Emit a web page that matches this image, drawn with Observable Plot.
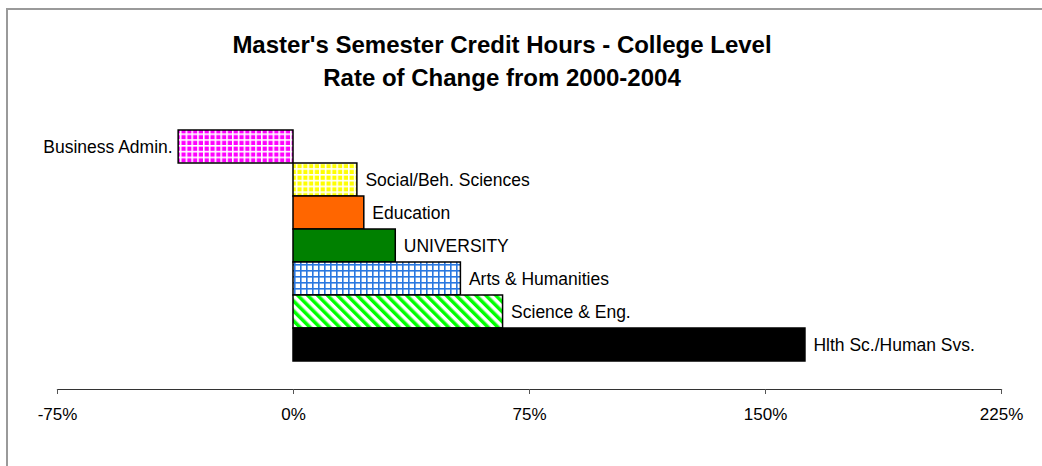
<!DOCTYPE html>
<html>
<head>
<meta charset="utf-8">
<script src="https://cdn.jsdelivr.net/npm/d3@7"></script>
<script src="https://cdn.jsdelivr.net/npm/@observablehq/plot@0.6"></script>
<style>
  html, body { margin: 0; padding: 0; background: #fff; overflow: hidden; }
  #wrap { position: relative; width: 1042px; height: 466px; }
  #border { position: absolute; left: 6px; top: 8px; width: 1100px; height: 500px;
            border-left: 2px solid #9a9a9a; border-top: 2px solid #9a9a9a; pointer-events: none; z-index: 3; }
  #title { position: absolute; top: 28px; left: 0; width: 1004px; text-align: center;
           font-family: "Liberation Sans", Arial, sans-serif; font-weight: bold; font-size: 24px;
           line-height: 33px; color: #000; z-index: 2; }
  #chart { position: absolute; left: 0; top: 0; }
</style>
</head>
<body>
<div id="wrap">
  <div id="border"></div>
  <div id="title">Master's Semester Credit Hours - College Level<br>Rate of Change from 2000-2004</div>
  <div id="chart"></div>
</div>
<script>
const categories = ["Business Admin.", "Social/Beh. Sciences", "Education", "UNIVERSITY",
                    "Arts & Humanities", "Science & Eng.", "Hlth Sc./Human Svs."];
const values = [-36.5, 20.3, 22.5, 32.5, 53.2, 66.6, 162.7];
const tickValues = [-75, 0, 75, 150, 225];
const tickLabels = ["-75%", "0%", "75%", "150%", "225%"];
const fills = ["url(#pMagenta)", "url(#pYellow)", "#FF6600", "#008000", "url(#pBlue)", "url(#pGreen)", "#000000"];

const data = categories.map((c, i) => ({category: c, value: values[i]}));
const fmt = d => tickLabels[tickValues.indexOf(d)];

const chart = Plot.plot({
  width: 1042,
  height: 466,
  marginLeft: 57,
  marginRight: 41,
  marginTop: 127,
  marginBottom: 77,
  style: {fontFamily: "'Liberation Sans', Arial, sans-serif", fontSize: "17px", color: "#000", background: "transparent"},
  x: {domain: [-75, 225]},
  y: {domain: categories, range: [127, 364], padding: 0, axis: null},
  color: {type: "ordinal", domain: categories, range: fills},
  marks: [
    Plot.barX(data, {x: "value", y: "category", fill: "category", stroke: "#000", strokeWidth: 1.5}),
    Plot.text(data.filter(d => d.value >= 0), {x: "value", y: "category", text: "category",
      textAnchor: "start", dx: 8, fontSize: 17.5, fill: "#000"}),
    Plot.text(data.filter(d => d.value < 0), {x: "value", y: "category", text: "category",
      textAnchor: "end", dx: -6, fontSize: 17.5, fill: "#000"}),
    Plot.frame({anchor: "bottom", stroke: "#333", strokeWidth: 1.2}),
    Plot.axisX({ticks: tickValues, tickFormat: fmt, tickSize: 5, tickPadding: 13,
      stroke: "#555", fontSize: 17, fill: "#000", label: null})
  ]
});

// patterns
const svg = d3.select(chart);
const defs = svg.insert("defs", ":first-child");
function grid(id, bg, line, size, lw) {
  const p = defs.append("pattern").attr("id", id).attr("patternUnits", "userSpaceOnUse")
    .attr("width", size).attr("height", size);
  p.append("rect").attr("width", size).attr("height", size).attr("fill", bg);
  p.append("rect").attr("x", 0).attr("y", 0).attr("width", lw).attr("height", size).attr("fill", line);
  p.append("rect").attr("x", 0).attr("y", 0).attr("width", size).attr("height", lw).attr("fill", line);
}
grid("pMagenta", "#FF00FF", "#FFFFFF", 5.8, 1.6);
grid("pYellow", "#FFFF00", "#FFFFFF", 5.8, 1.6);
grid("pBlue", "#FFFFFF", "#2a78e0", 6, 1.6);
const g = defs.append("pattern").attr("id", "pGreen").attr("patternUnits", "userSpaceOnUse")
  .attr("width", 7).attr("height", 7).attr("patternTransform", "rotate(-45)");
g.append("rect").attr("width", 7).attr("height", 7).attr("fill", "#FFFFFF");
g.append("rect").attr("width", 3.5).attr("height", 7).attr("fill", "#00FF00");

document.getElementById("chart").appendChild(chart);
</script>
</body>
</html>
